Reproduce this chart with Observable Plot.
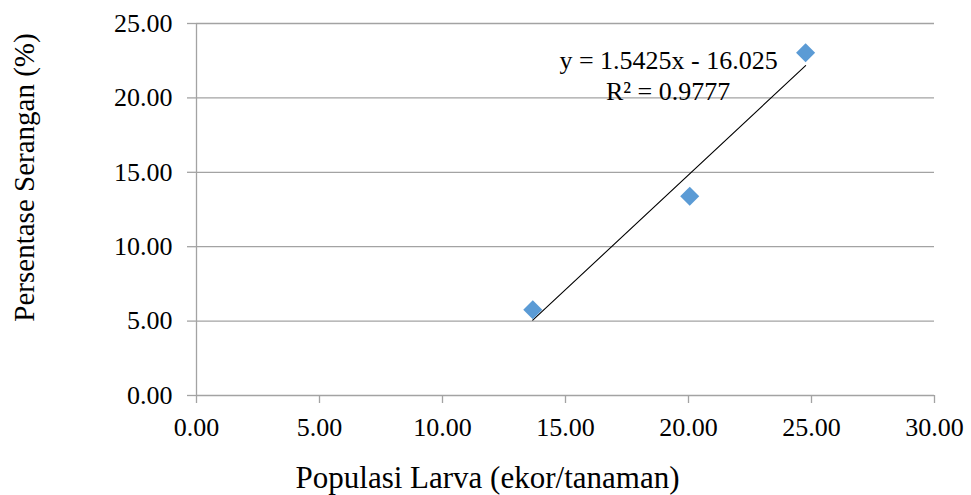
<!DOCTYPE html>
<html>
<head>
<meta charset="utf-8">
<script src="https://cdn.jsdelivr.net/npm/d3@7"></script>
<script src="https://cdn.jsdelivr.net/npm/@observablehq/plot@0.6"></script>
<style>
  html, body { margin: 0; padding: 0; background: #fff; }
  svg { display: block; }
</style>
</head>
<body>
<div id="chart"></div>
<script>
// Data
const populasiLarva = [13.67, 20.05, 24.76];   // x: ekor/tanaman
const persenSerangan = [5.76, 13.39, 23.03];   // y: %
const xTicks = [0, 5, 10, 15, 20, 25, 30];
const yTicks = [0, 5, 10, 15, 20, 25];
const trendSlope = 1.5425;
const trendIntercept = -16.025;
const equationLines = ["y = 1.5425x - 16.025", "R\u00B2 = 0.9777"];

const points = populasiLarva.map((x, i) => ({x, y: persenSerangan[i]}));
const xExt = d3.extent(populasiLarva);
const trend = xExt.map(x => ({x, y: trendSlope * x + trendIntercept}));

const font = "'Liberation Serif', 'Times New Roman', serif";
const gray = "#a3a3a3";
const fmt = d => d.toFixed(2);

const chart = Plot.plot({
  width: 971,
  height: 495,
  marginLeft: 196,
  marginRight: 37,
  marginTop: 23,
  marginBottom: 100,
  style: {fontFamily: font, fontSize: "26px", color: "black", background: "white"},
  x: {domain: [0, 30]},
  y: {domain: [0, 25]},
  marks: [
    Plot.gridY(yTicks.filter(d => d > 0), {stroke: gray, strokeOpacity: 1, strokeWidth: 1.3}),
    Plot.ruleY([0], {stroke: gray, strokeWidth: 1.3}),
    Plot.ruleX([0], {stroke: gray, strokeWidth: 1.3}),
    Plot.axisY({ticks: yTicks, tickFormat: fmt, tickSize: 9, tickPadding: 15, stroke: gray, strokeWidth: 1.3, fill: "black", fontSize: 26, label: null}),
    Plot.axisX({ticks: xTicks, tickFormat: fmt, tickSize: 8, tickPadding: 14, stroke: gray, strokeWidth: 1.3, fill: "black", fontSize: 26, label: null}),
    Plot.line(trend, {x: "x", y: "y", stroke: "black", strokeWidth: 1.1}),
    Plot.dot(points, {x: "x", y: "y", symbol: "diamond2", r: 8.6, fill: "#5B9BD5", stroke: "none"}),
    Plot.text([equationLines[0]], {x: () => 19.19, y: () => 22.51, text: d => d, textAnchor: "middle", lineAnchor: "middle", fontSize: 26, fill: "black"}),
    Plot.text([equationLines[1]], {x: () => 19.17, y: () => 20.45, text: d => d, textAnchor: "middle", lineAnchor: "middle", fontSize: 26, fill: "black"}),
    Plot.text(["Populasi Larva (ekor/tanaman)"], {frameAnchor: "bottom", text: d => d, textAnchor: "middle", lineAnchor: "middle", dx: -78, dy: 83, fontSize: 31, fill: "black"}),
    Plot.text(["Persentase Serangan (%)"], {frameAnchor: "left", text: d => d, rotate: -90, textAnchor: "middle", lineAnchor: "middle", dx: -172, dy: -32, fontSize: 29, fill: "black"})
  ]
});
document.getElementById("chart").appendChild(chart);
</script>
</body>
</html>
